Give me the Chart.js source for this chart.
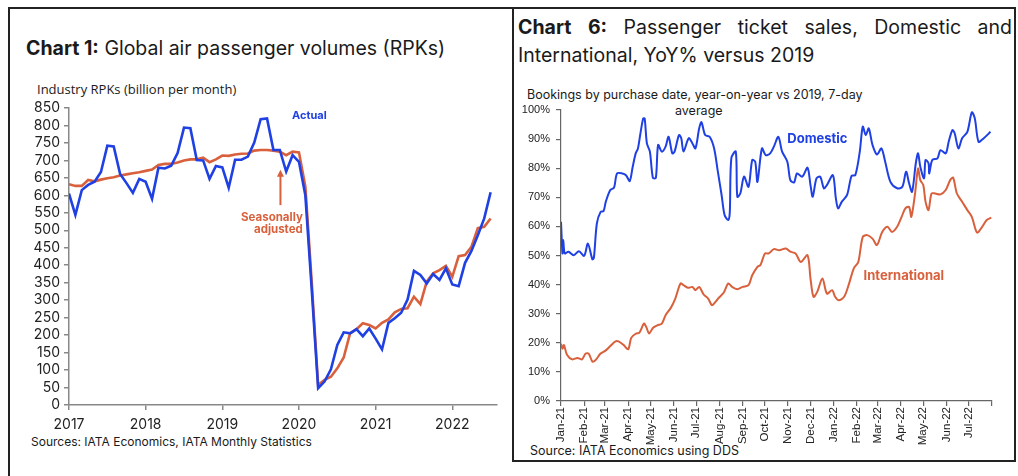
<!DOCTYPE html>
<html>
<head>
<meta charset="utf-8">
<script src="https://cdn.jsdelivr.net/npm/chart.js@4.4.1/dist/chart.umd.min.js"></script>
<style>
  body { margin: 0; background: #fff; width: 1018px; height: 476px; overflow: hidden; position: relative;
         font-family: Inter, "Liberation Sans", sans-serif; color: #1a1a1a; }
  .abs { position: absolute; white-space: nowrap; }
  .rule { position: absolute; background: #222; }
  canvas { position: absolute; top: 0; }
  .ttl { font-size: 19.5px; line-height: 24px; }
  .ttl b { font-weight: 700; }
  #t6a { left: 518px; top: 15px; width: 494px; display: flex; justify-content: space-between; }
</style>
</head>
<body>
<!-- panel frames -->
<div class="rule" style="left:8px;top:7px;width:1008px;height:2px"></div>
<div class="rule" style="left:8px;top:7px;width:2px;height:469px"></div>
<div class="rule" style="left:512px;top:7px;width:2px;height:455px"></div>
<div class="rule" style="left:1014px;top:7px;width:2px;height:455px"></div>
<div class="rule" style="left:512px;top:460px;width:504px;height:2px"></div>

<!-- chart 1 texts -->
<div class="abs ttl" style="left:26px;top:36px"><b>Chart 1:</b> Global air passenger volumes (RPKs)</div>
<div class="abs" style="left:37px;top:80px;font-family:'Open Sans';font-size:13px">Industry RPKs (billion per month)</div>
<div class="abs" style="left:31px;top:434px;font-size:12px">Sources: IATA Economics, IATA Monthly Statistics</div>

<!-- chart 6 texts -->
<div class="abs ttl" id="t6a"><b>Chart</b><b>6:</b><span>Passenger</span><span>ticket</span><span>sales,</span><span>Domestic</span><span>and</span></div>
<div class="abs ttl" style="left:518px;top:43px">International, YoY% versus 2019</div>
<div class="abs" style="left:527px;top:87px;font-size:12.5px">Bookings by purchase date, year-on-year vs 2019, 7-day</div>
<div class="abs" style="left:675px;top:103px;font-size:12.5px">average</div>
<div class="abs" style="left:530px;top:443px;font-size:12.5px">Source: IATA Economics using DDS</div>

<canvas id="chart1" width="512" height="476" style="left:0"></canvas>
<canvas id="chart6" width="502" height="476" style="left:513px"></canvas>

<script>
// ---- Chart 1: monthly RPKs, Jan 2017 .. Jul 2022 (index 0 = Jan 2017)
const yearLabels = ['2017', '2018', '2019', '2020', '2021', '2022'];
const yearIdx = [0, 12, 24, 36, 48, 60];
const rpkActual = [605, 544, 615, 630, 639, 667, 742, 740, 661, 635, 607, 647,
                   639, 590, 679, 677, 685, 721, 794, 792, 701, 700, 647, 684,
                   680, 622, 702, 702, 711, 751, 818, 820, 730, 730, 668, 715,
                   696, 600, 330, 48, 67, 102, 172, 208, 205, 217, 197, 219,
                   190, 159, 235, 248, 264, 302, 384, 372, 348, 375, 358, 391,
                   345, 340, 407, 441, 486, 534, 609];
const rpkSA = [632, 627, 627, 644, 640, 645, 649, 652, 657, 660, 663, 666,
               670, 674, 687, 690, 690, 694, 700, 703, 703, 708, 695, 703,
               714, 713, 717, 719, 720, 728, 730, 730, 728, 725, 715, 725,
               723, 625, 350, 57, 72, 81, 105, 136, 205, 217, 234, 229,
               219, 235, 245, 265, 275, 277, 310, 289, 353, 377, 386, 398,
               367, 426, 429, 453, 506, 510, 534];

// ---- Chart 6: daily bookings, x = days since 1 Jan 2021
const monthDays = [0, 31, 59, 90, 120, 151, 181, 212, 243, 273, 304, 334,
                   365, 396, 424, 455, 485, 516, 546, 577];
const monthLabels = ['Jan-21', 'Feb-21', 'Mar-21', 'Apr-21', 'May-21', 'Jun-21', 'Jul-21', 'Aug-21',
                     'Sep-21', 'Oct-21', 'Nov-21', 'Dec-21', 'Jan-22', 'Feb-22', 'Mar-22', 'Apr-22',
                     'May-22', 'Jun-22', 'Jul-22', ''];
const domDays = [0, 2, 3, 5, 10, 17, 24, 31, 36, 42, 44, 48, 53, 57, 60, 66, 71, 75, 82, 87,
                 92, 96, 100, 103, 106, 110, 112, 115, 119, 123, 127, 130, 135, 140, 144, 149, 152, 158, 161, 164,
                 171, 176, 180, 185, 188, 193, 199, 205, 210, 215, 219, 224, 226, 228, 234, 236, 240, 245, 251, 256,
                 260, 263, 269, 274, 280, 285, 291, 296, 303, 307, 312, 316, 323, 330, 334, 337, 342, 347, 352, 356,
                 364, 368, 371, 376, 383, 389, 394, 400, 404, 408, 412, 417, 423, 429, 434, 441, 450, 457, 462, 466,
                 470, 475, 478, 481, 486, 488, 492, 493, 497, 504, 508, 515, 519, 524, 527, 532, 537, 544, 550, 554,
                 559, 566, 575];
const domVals = [61.6, 50.7, 55.3, 50.7, 51.3, 50.1, 51.5, 49.9, 54.1, 48.7, 49.2, 61.0, 65.0, 65.3, 68.5, 72.5, 73.3, 78.2, 78.2, 77.6,
                 75.6, 80.5, 85.1, 86.8, 91.4, 97.1, 97.1, 88.5, 85.7, 76.7, 76.7, 88.0, 85.7, 87.4, 90.8, 85.1, 85.7, 91.4, 90.3, 85.7,
                 90.3, 88.5, 86.8, 93.7, 95.8, 91.4, 90.8, 86.8, 78.8, 70.8, 63.9, 62.2, 65.0, 83.4, 85.7, 70.2, 71.3, 77.1, 73.6, 82.8,
                 82.2, 75.3, 86.8, 84.5, 85.1, 87.4, 90.8, 85.7, 82.2, 75.9, 75.1, 78.2, 77.1, 80.2, 74.2, 70.2, 76.5, 77.1, 73.1, 74.2,
                 77.6, 69.6, 66.2, 68.5, 70.8, 77.4, 77.6, 85.7, 94.3, 91.4, 93.7, 88.0, 84.7, 86.8, 82.2, 75.3, 73.1, 73.6, 78.8, 74.8,
                 71.9, 81.7, 85.1, 80.5, 76.5, 82.8, 81.7, 78.2, 82.8, 83.4, 86.2, 85.1, 89.1, 93.1, 92.0, 86.8, 90.3, 92.5, 99.2, 97.1,
                 89.1, 90.3, 92.5];
const intDays = [0, 2, 4, 8, 15, 22, 28, 33, 37, 42, 46, 53, 60, 66, 73, 77, 84, 90, 94, 100,
                 105, 111, 114, 118, 123, 129, 135, 140, 147, 153, 160, 164, 170, 176, 180, 185, 191, 197, 202, 206,
                 211, 218, 224, 229, 236, 243, 251, 256, 263, 267, 273, 278, 285, 292, 301, 307, 314, 321, 330, 334,
                 338, 343, 350, 356, 363, 367, 372, 379, 385, 392, 398, 404, 410, 417, 423, 430, 437, 443, 450, 456,
                 461, 466, 469, 474, 478, 481, 485, 488, 492, 496, 501, 508, 515, 521, 525, 530, 537, 544, 550, 557,
                 564, 570, 576];
const intVals = [19.7, 18.0, 19.2, 15.9, 14.3, 14.8, 14.3, 16.3, 16.3, 13.6, 14.0, 16.3, 17.4, 18.9, 20.5, 20.5, 19.2, 17.8, 21.7, 23.1,
                 23.5, 26.6, 25.5, 23.2, 25.1, 26.0, 26.6, 29.5, 32.0, 35.2, 40.4, 39.8, 38.9, 39.2, 38.1, 39.2, 36.6, 35.2, 32.9, 33.8,
                 35.4, 37.3, 40.4, 39.2, 38.4, 39.2, 39.8, 43.2, 46.1, 46.7, 50.7, 50.7, 52.2, 51.8, 52.4, 51.3, 50.7, 47.8, 50.1, 42.1,
                 35.8, 37.5, 42.1, 36.9, 38.1, 35.8, 34.6, 35.8, 39.8, 45.6, 47.8, 56.4, 57.0, 55.8, 53.6, 58.1, 59.9, 58.1, 59.9, 63.3,
                 66.2, 66.7, 63.3, 71.3, 79.9, 75.9, 74.2, 68.5, 65.6, 71.3, 71.3, 71.0, 72.5, 75.9, 76.7, 71.3, 68.5, 65.6, 63.3, 57.9,
                 59.9, 62.2, 63.0];

const BLUE = '#1f40e3';
const RED = '#d9603c';

function pts(xs, ys) {
    return xs.map((x, i) => ({ x: x, y: ys[i] }));
}

// text notes placed in data units, drawn after the lines
function notesPlugin(notes, arrow) {
    return {
        id: 'notes',
        afterDatasetsDraw(chart) {
            const ctx = chart.ctx;
            const xs = chart.scales.x, ys = chart.scales.y;
            ctx.save();
            notes.forEach(n => {
                ctx.font = n.font;
                ctx.fillStyle = n.color;
                ctx.textAlign = n.align;
                ctx.textBaseline = 'middle';
                ctx.fillText(n.text, xs.getPixelForValue(n.x), ys.getPixelForValue(n.y));
            });
            if (arrow) {
                const ax = xs.getPixelForValue(arrow.x);
                const y0 = ys.getPixelForValue(arrow.from), y1 = ys.getPixelForValue(arrow.to);
                ctx.strokeStyle = arrow.color;
                ctx.fillStyle = arrow.color;
                ctx.lineWidth = 2;
                ctx.beginPath();
                ctx.moveTo(ax, y0);
                ctx.lineTo(ax, y1 + 4);
                ctx.stroke();
                ctx.beginPath();
                ctx.moveTo(ax, y1);
                ctx.lineTo(ax - 3.5, y1 + 7);
                ctx.lineTo(ax + 3.5, y1 + 7);
                ctx.closePath();
                ctx.fill();
            }
            ctx.restore();
        }
    };
}

Chart.defaults.animation = false;
Chart.defaults.responsive = false;
Chart.defaults.plugins.legend.display = false;
Chart.defaults.plugins.tooltip.enabled = false;
Chart.defaults.elements.point.radius = 0;

// Chart 1
new Chart(document.getElementById('chart1'), {
    type: 'line',
    data: {
        datasets: [
            { data: pts(rpkActual.map((v, i) => i), rpkActual), borderColor: BLUE, borderWidth: 2.6, tension: 0 },
            { data: pts(rpkSA.map((v, i) => i), rpkSA), borderColor: RED, borderWidth: 2.6, tension: 0 }
        ]
    },
    options: {
        layout: { padding: { left: 0, right: 15, top: 108, bottom: 0 } },
        scales: {
            x: {
                type: 'linear', min: 0, max: 67,
                afterBuildTicks: s => { s.ticks = yearIdx.map(v => ({ value: v })); },
                afterFit: s => { s.height = 71; },
                ticks: { callback: (v, i) => yearLabels[i], maxRotation: 0, padding: 6,
                         font: { family: 'Inter', size: 14 }, color: '#222' },
                grid: { drawOnChartArea: false, tickLength: 5, color: '#888', lineWidth: 1.5 },
                border: { color: '#888', width: 1.5 }
            },
            y: {
                min: 0, max: 850,
                afterFit: s => { s.width = 69; },
                ticks: { stepSize: 50, autoSkip: false, padding: 4, font: { family: 'Inter', size: 14 }, color: '#222' },
                grid: { drawOnChartArea: false, tickLength: 5, color: '#888', lineWidth: 1.5 },
                border: { color: '#888', width: 1.5 }
            }
        }
    },
    plugins: [notesPlugin([
        { text: 'Actual', x: 34.9, y: 828, align: 'left', color: BLUE, font: 'bold 11px Inter' },
        { text: 'Seasonally', x: 36.6, y: 537, align: 'right', color: RED, font: 'bold 11.5px Inter' },
        { text: 'adjusted', x: 36.6, y: 502, align: 'right', color: RED, font: 'bold 11.5px Inter' }
    ], { x: 33.1, from: 572, to: 673, color: RED })]
});

// Chart 6
new Chart(document.getElementById('chart6'), {
    type: 'line',
    data: {
        datasets: [
            { data: pts(domDays, domVals), borderColor: BLUE, borderWidth: 2, tension: 0.3 },
            { data: pts(intDays, intVals), borderColor: RED, borderWidth: 2, tension: 0.3 }
        ]
    },
    options: {
        layout: { padding: { left: 0, right: 23, top: 110, bottom: 0 } },
        scales: {
            x: {
                type: 'linear', min: 0, max: 577,
                afterBuildTicks: s => { s.ticks = monthDays.map(v => ({ value: v })); },
                afterFit: s => { s.height = 75; },
                ticks: { callback: (v, i) => monthLabels[i], minRotation: 90, maxRotation: 90, autoSkip: false,
                         padding: 1, font: { family: 'Liberation Sans', size: 11.5 }, color: '#222' },
                grid: { drawOnChartArea: false, tickLength: 5, color: '#666', lineWidth: 1.2 },
                border: { color: '#666', width: 1.2 }
            },
            y: {
                min: 0, max: 100,
                afterFit: s => { s.width = 48; },
                ticks: { stepSize: 10, autoSkip: false, padding: 6, callback: v => v + '%',
                         font: { family: 'Liberation Sans', size: 11 }, color: '#222' },
                grid: { drawOnChartArea: false, tickLength: 5, color: '#666', lineWidth: 1.2 },
                border: { color: '#666', width: 1.2 }
            }
        }
    },
    plugins: [notesPlugin([
        { text: 'Domestic', x: 303, y: 89.9, align: 'left', color: BLUE, font: 'bold 13px Inter' },
        { text: 'International', x: 405, y: 43, align: 'left', color: RED, font: 'bold 13px Inter' }
    ])]
});
</script>
</body>
</html>
